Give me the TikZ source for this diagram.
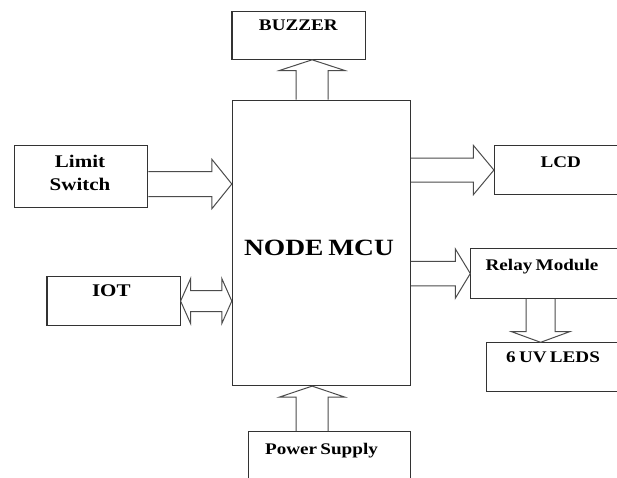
\documentclass[tikz,border=0pt]{standalone}
\usepackage{fontspec}
\setmainfont{Liberation Serif}[FakeStretch=1.18, WordSpace=0.7]
\usetikzlibrary{calc}

% hollow block arrow: start, tip, half shaft, half head, head length
\newcommand{\blockarrow}[5]{%
  \coordinate (ba-a) at (#1);
  \coordinate (ba-b) at (#2);
  \coordinate (ba-h) at ($(ba-b)!#5!(ba-a)$);
  \draw[barrow] ($(ba-a)!#3!90:(ba-b)$) -- ($(ba-h)!#3!-90:(ba-a)$)
    -- ($(ba-h)!#4!-90:(ba-a)$) -- (ba-b) -- ($(ba-h)!#4!90:(ba-a)$)
    -- ($(ba-h)!#3!90:(ba-a)$) -- ($(ba-a)!#3!-90:(ba-b)$);
}
% same with a head at both ends
\newcommand{\blockdarrow}[5]{%
  \coordinate (ba-a) at (#1);
  \coordinate (ba-b) at (#2);
  \coordinate (ba-g) at ($(ba-a)!#5!(ba-b)$);
  \coordinate (ba-h) at ($(ba-b)!#5!(ba-a)$);
  \draw[barrow] (ba-a) -- ($(ba-g)!#4!90:(ba-b)$) -- ($(ba-g)!#3!90:(ba-b)$)
    -- ($(ba-h)!#3!-90:(ba-a)$) -- ($(ba-h)!#4!-90:(ba-a)$) -- (ba-b)
    -- ($(ba-h)!#4!90:(ba-a)$) -- ($(ba-h)!#3!90:(ba-a)$)
    -- ($(ba-g)!#3!-90:(ba-b)$) -- ($(ba-g)!#4!-90:(ba-b)$) -- cycle;
}

\begin{document}
\begin{tikzpicture}[x=1pt, y=-1pt,
    box/.style={draw=black!80, line width=1.1pt, inner sep=0pt, anchor=north west},
    lbl/.style={font=\bfseries\fontsize{16.2}{19}\selectfont, inner sep=0pt, anchor=base},
    bigl/.style={font=\bfseries\fontsize{17.8}{22.3}\selectfont, inner sep=0pt, align=center},
    barrow/.style={draw=black!70, line width=1pt, line join=miter}]

    \fill[white] (0,0) rectangle (617,477);
    \path[use as bounding box] (0,0) rectangle (617,477);
    \clip (0,0) rectangle (617,477);

    % blocks
    \node[box, minimum width=133.4pt, minimum height=47.7pt]  (buz)  at (231.4,11)    {};
    \node[box, minimum width=177.9pt, minimum height=285.3pt] (mcu)  at (231.8,99.7)  {};
    \node[box, minimum width=133pt,   minimum height=61.7pt]  (lim)  at (14.2,145)    {};
    \node[box, minimum width=133.1pt, minimum height=49pt]    (iot)  at (46.4,276)    {};
    \node[box, minimum width=146pt,   minimum height=49pt]    (lcd)  at (493.9,145)   {};
    \node[box, minimum width=169.7pt, minimum height=49.4pt]  (rel)  at (470.3,248.3) {};
    \node[box, minimum width=154pt,   minimum height=48.4pt]  (leds) at (486,342.3)   {};
    \node[box, minimum width=161.4pt, minimum height=60pt]    (pwr)  at (248.3,431)   {};

    % texts
    \node[lbl] (buzt) at (298.3,30) {BUZZER};
    \node[lbl, font=\bfseries\fontsize{23.3}{27}\selectfont] (mcut) at (319,255) {NODE MCU};
    \node[bigl] (limt) at (80,173) {Limit\\Switch};
    \node[lbl, font=\bfseries\fontsize{17.8}{22}\selectfont] (iott) at (111.3,296.7) {IOT};
    \node[lbl] (lcdt)  at (560.8,167.3) {LCD};
    \node[lbl] (relt)  at (542,270)     {Relay Module};
    \node[lbl] (ledst) at (553,362.7)   {6 UV LEDS};
    \node[lbl] (pwrt)  at (321.5,454)   {Power Supply};

    % connectors
    \coordinate (bzax) at ([xshift=-9.2pt]mcu.north);
    \coordinate (pwax) at ([xshift=-9.2pt]mcu.south);
    \coordinate (lsax) at ([yshift=-7.6pt]lim.east);
    \coordinate (ledax) at ([xshift=-15.1pt]rel.south);

    \blockarrow{bzax}{bzax |- buz.south}{16pt}{32.7pt}{10.7pt}
    \blockarrow{pwax |- pwr.north}{pwax}{16pt}{32.7pt}{11pt}
    \blockarrow{lsax}{lsax -| mcu.west}{12.5pt}{24.8pt}{20pt}
    \blockarrow{lcd.west -| mcu.east}{lcd.west}{12pt}{24.6pt}{20.5pt}
    \blockarrow{rel.west -| mcu.east}{rel.west}{12.3pt}{24.7pt}{15pt}
    \blockarrow{ledax}{ledax |- leds.north}{14.4pt}{29pt}{10.6pt}
    \blockdarrow{iot.east}{iot.east -| mcu.west}{10.5pt}{22.5pt}{10pt}
\end{tikzpicture}
\end{document}
